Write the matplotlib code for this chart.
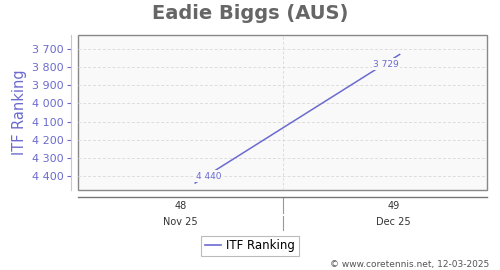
import matplotlib
matplotlib.use("Agg")
import matplotlib.pyplot as plt
from matplotlib.patches import Rectangle
from matplotlib.lines import Line2D

# ── data ─────────────────────────────────────────────────────────────────────
weeks      = [48.07, 49.03]          # ISO week positions of the two readings
ranking    = [4440, 3729]
point_lbls = ["4 440", "3 729"]
week_ticks = [48, 49]
month_lbls = ["Nov 25", "Dec 25"]
month_sep  = 48.48
y_ticks    = [3700, 3800, 3900, 4000, 4100, 4200, 4300, 4400]

BLUE  = "#6b6bcf"
GRAYT = "#666666"

fig = plt.figure(figsize=(5, 2.7), dpi=100)
ax = fig.add_axes([0.156, 0.296, 0.818, 0.574])
ax.set_facecolor("none")

# plot area background + frame
ax.add_patch(Rectangle((0, 0), 1, 1, transform=ax.transAxes, facecolor="#f9f9f9",
                       edgecolor="#888888", linewidth=1.0, zorder=0, clip_on=False))

ax.set_xlim(47.52, 49.44)
ax.set_ylim(4479, 3622)

ax.plot(weeks, ranking, color=BLUE, linewidth=1.1, zorder=3)
offsets = [(10, 5), (-10, -7)]
for x, y, s, off in zip(weeks, ranking, point_lbls, offsets):
    ax.annotate(s, (x, y), xytext=off, textcoords="offset points", ha="center", va="center",
                fontsize=6.5, color=BLUE, zorder=4,
                bbox=dict(boxstyle="square,pad=0.15", facecolor="#f9f9f9", edgecolor="none"))

# grid
for yt in y_ticks:
    ax.axhline(yt, color="#dddddd", linestyle=(0, (3, 2)), linewidth=0.7, zorder=1)
ax.axvline(month_sep, color="#dddddd", linestyle=(0, (3, 2)), linewidth=0.7, zorder=1)

# y axis
ax.set_yticks(y_ticks)
ax.set_yticklabels([f"{v:,}".replace(",", " ") for v in y_ticks])
ax.tick_params(axis="y", colors=BLUE, labelsize=8, length=3, width=0.8, pad=2)
ax.set_ylabel("ITF Ranking", color=BLUE, fontsize=10.5, labelpad=4)
for side in ["top", "right"]:
    ax.spines[side].set_visible(False)
ax.spines["left"].set_position(("outward", 5))
ax.spines["left"].set_color("#c4c4e4")
ax.spines["bottom"].set_position(("outward", 5))
ax.spines["bottom"].set_color("#777777")
ax.spines["bottom"].set_linewidth(1.0)

# x axis: week numbers + months
ax.set_xticks([])
trans = ax.get_xaxis_transform()
for wk, mo in zip(week_ticks, month_lbls):
    ax.text(wk, -0.10, str(wk), transform=trans, ha="center", va="center",
            fontsize=7, color="#333333")
    ax.text(wk, -0.205, mo, transform=trans, ha="center", va="center",
            fontsize=7, color="#333333")
ax.plot([month_sep, month_sep], [-0.05, -0.15], transform=trans, color="#999999",
        linewidth=0.8, clip_on=False)
ax.plot([month_sep, month_sep], [-0.17, -0.26], transform=trans, color="#999999",
        linewidth=0.8, clip_on=False)

fig.text(0.5, 0.95, "Eadie Biggs (AUS)", ha="center", va="center", fontsize=14,
         fontweight="bold", color=GRAYT)

leg = fig.legend([Line2D([], [], color=BLUE, linewidth=1.2)], ["ITF Ranking"],
                 loc="center", bbox_to_anchor=(0.5, 0.089), fontsize=8.5, frameon=True,
                 fancybox=False, handlelength=1.4, handletextpad=0.4, borderpad=0.3,
                 borderaxespad=0)
leg.get_frame().set_edgecolor("#aaaaaa")
leg.get_frame().set_linewidth(0.8)

fig.text(0.978, 0.004, "© www.coretennis.net, 12-03-2025", ha="right", va="bottom",
         fontsize=6.5, color="#555555")

fig.savefig("out.png", dpi=100)
